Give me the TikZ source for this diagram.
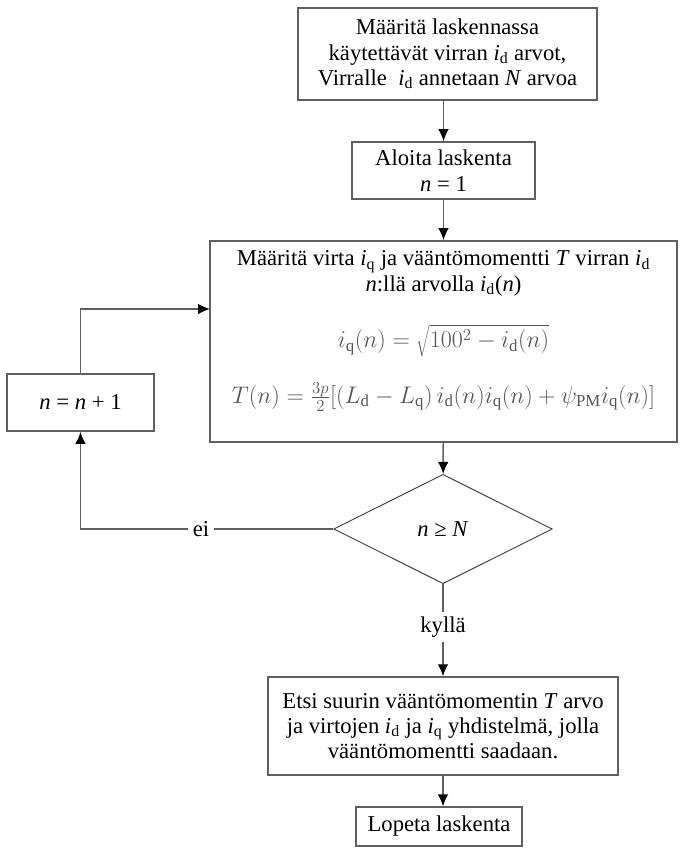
\documentclass[tikz,border=0pt]{standalone}
\usepackage{fix-cm}
\usepackage{fontspec}
\setmainfont{Liberation Serif}
\usetikzlibrary{arrows.meta, shapes.geometric}
\definecolor{edge}{RGB}{95,95,95}
\definecolor{eqgray}{RGB}{85,85,85}

\newcommand{\cur}[1]{\textit{i}\textsubscript{#1}}

\begin{document}
\begin{tikzpicture}[x=0.75pt, y=-0.75pt, >=Latex,
  every node/.style={font=\fontsize{17}{19}\selectfont},
  box/.style={draw=edge, line width=1.1pt, align=center, inner sep=2pt},
  decision/.style={draw=black!75, line width=0.7pt, diamond, aspect=2, inner sep=0pt,
    minimum width=164pt, minimum height=82pt},
  flow/.style={draw=edge, line width=1.1pt},
  arr/.style={flow, -{Latex[length=9pt, width=8pt, color=black]}}]
\useasboundingbox (0,0) rectangle (691,855);

% ---- main column ----
\node[box, minimum width=224pt, minimum height=69pt] (init) at (447.5,54)
  {Määritä laskennassa\\ käytettävät virran \cur{d} arvot,\\ Virralle \ \cur{d} annetaan \textit{N} arvoa};
\node[box, minimum width=137pt, minimum height=43pt] (start) at (443.5,170.5)
  {Aloita laskenta\\ \textit{n} = 1};
\node[box, minimum width=350pt, minimum height=151pt] (calc) at (443.5,341.5) {};
\node[align=center, anchor=north] (calctext) at (443.5,246)
  {Määritä virta \cur{q} ja vääntömomentti \textit{T} virran \cur{d}\\
   \textit{n}:llä arvolla \cur{d}(\textit{n})};
\node[text=eqgray, font=\fontsize{18}{20}\selectfont] (eqq) at (443.5,341)
  {$i_{\mathrm{q}}(n)=\sqrt{100^2-i_{\mathrm{d}}(n)}$};
\node[text=eqgray, font=\fontsize{18}{20}\selectfont] (eqt) at (443.5,397)
  {$T(n)=\frac{3p}{2}\big[(L_{\mathrm{d}}-L_{\mathrm{q}})\,i_{\mathrm{d}}(n)i_{\mathrm{q}}(n)+\psi_{\mathrm{PM}}i_{\mathrm{q}}(n)\big]$};
\node[decision] (test) at (443,529) {\textit{n} ≥ \textit{N}};
\node (yes) at (443,627) {kyllä};
\node[box, minimum width=262.5pt, minimum height=73.5pt] (best) at (443,726)
  {Etsi suurin vääntömomentin \textit{T} arvo\\ ja virtojen \cur{d} ja \cur{q} yhdistelmä, jolla\\ vääntömomentti saadaan.};
\node[box, minimum width=124.5pt, minimum height=29pt] (stop) at (439,826.5)
  {Lopeta laskenta};

% ---- loop ----
\node[box, minimum width=110pt, minimum height=43pt] (inc) at (80.5,402.5)
  {\textit{n} = \textit{n} + 1};
\node (no) at (201,529) {ei};
\coordinate (back) at (210,309);

% ---- arrows ----
\draw[arr] (init.south -| start.north) -- (start);
\draw[arr] (start) -- (start.south |- calc.north);
\draw[arr] (calc) -- (test);
\draw[flow] (test) -- (yes);
\draw[arr] (yes) -- (best);
\draw[arr] (best) -- (best.south |- stop.north);
\draw[flow] (test.west) -- (no);
\draw[arr] (no.west) -| (inc.south);
\draw[arr] (inc.north) |- (back);
\end{tikzpicture}
\end{document}
